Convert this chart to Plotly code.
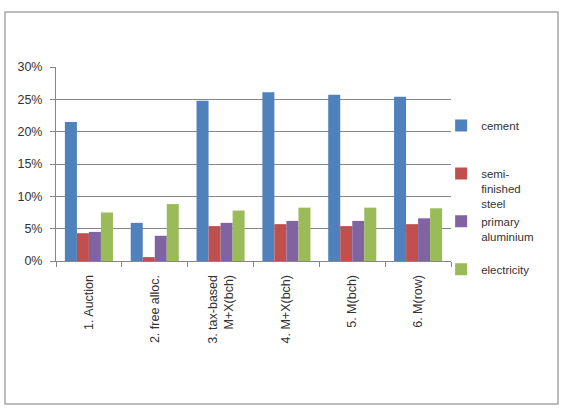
import plotly.graph_objects as go

categories = ["1. Auction", "2. free alloc.", "3. tax-based<br>M+X(bch)", "4. M+X(bch)", "5. M(bch)", "6. M(row)"]
series_names = ["cement<br>\u00a0<br>\u00a0", "semi-<br>finished<br>steel", "primary<br>aluminium<br>\u00a0", "electricity"]
cement = [0.215, 0.059, 0.248, 0.261, 0.257, 0.254]
steel = [0.043, 0.006, 0.054, 0.057, 0.054, 0.057]
aluminium = [0.045, 0.039, 0.059, 0.062, 0.062, 0.066]
electricity = [0.075, 0.088, 0.078, 0.0825, 0.0825, 0.0815]
colors = ["#4F81BD", "#C0504D", "#8064A2", "#9BBB59"]

fig = go.Figure()
for i, (name, vals) in enumerate(zip(series_names, [cement, steel, aluminium, electricity])):
    fig.add_trace(go.Bar(x=categories, y=vals, name=name, marker_color=colors[i],
                         marker_line_width=0))

font = dict(family="Liberation Sans, Arial, sans-serif", size=12.5, color="#333333")
legfont = dict(family="Liberation Sans, Arial, sans-serif", size=11.5, color="#333333")
fig.update_layout(
    width=562, height=417,
    margin=dict(l=56, r=111, t=67, b=156),
    paper_bgcolor="white", plot_bgcolor="white",
    barmode="group", bargap=0.27, bargroupgap=0,
    font=font,
    showlegend=True,
    legend=dict(x=0.975, y=0.77, xanchor="left", yanchor="top",
                font=legfont, tracegroupgap=0, itemwidth=30, valign="top",
                bgcolor="rgba(0,0,0,0)"),
    xaxis=dict(type="category", tickangle=-90, showline=True, linecolor="#868686",
               linewidth=1, ticks="outside", tickson="boundaries", ticklen=5,
               tickcolor="#868686", showgrid=False, tickfont=font, ticklabelstandoff=8),
    yaxis=dict(range=[0, 0.30], dtick=0.05, tickformat=".0%", showgrid=True,
               gridcolor="#868686", gridwidth=1, showline=True, linecolor="#868686",
               ticks="outside", ticklen=5, tickcolor="#868686", zeroline=False,
               tickfont=font, ticklabelstandoff=5),
    shapes=[dict(type="rect", xref="paper", yref="paper",
                 x0=(5 - 56) / 395, x1=(558 - 56) / 395,
                 y0=(261 - 404) / 194, y1=(261 - 12) / 194,
                 line=dict(color="#A6A6A6", width=1.5), fillcolor="rgba(0,0,0,0)")],
)
fig.write_html("out.html")
